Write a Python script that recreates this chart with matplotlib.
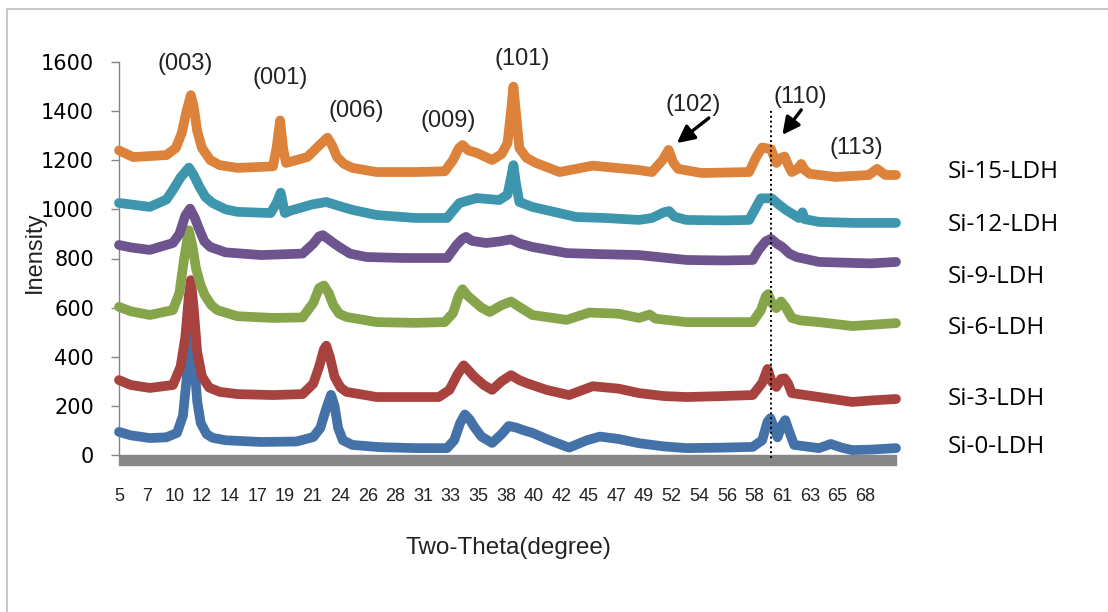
import matplotlib
matplotlib.use('Agg')
import matplotlib.pyplot as plt
from matplotlib.patches import Rectangle
from matplotlib.lines import Line2D

# XRD patterns: (2-theta in degrees, intensity in counts)
si0 = [(5.0, 94), (6.0, 80), (7.6, 69), (9.0, 72), (9.9, 90), (10.4, 160), (10.75, 330), (11.07, 530),
       (11.35, 380), (11.6, 220), (11.9, 130), (12.4, 85), (12.9, 70), (14, 60), (17, 53), (20, 55),
       (21.4, 73), (22.0, 110), (22.5, 190), (22.9, 245), (23.2, 200), (23.5, 110), (23.9, 60), (24.7, 41),
       (27, 32), (30, 28), (32.7, 28), (33.3, 60), (33.8, 130), (34.2, 165), (34.6, 145), (35.0, 114),
       (35.6, 75), (36.5, 49), (37.3, 85), (37.9, 118), (38.5, 112), (39.2, 100), (39.9, 90), (41.3, 61),
       (43.0, 30), (44.5, 60), (45.6, 75), (47.2, 65), (48.9, 48), (51, 35), (52.9, 28), (56, 30),
       (58.5, 33), (59.3, 60), (59.75, 135), (60.0, 150), (60.3, 110), (60.6, 72), (60.95, 120),
       (61.25, 142), (61.55, 100), (62.0, 41), (64.1, 28), (65.1, 45), (66.0, 30), (66.9, 20), (68.5, 22),
       (70.6, 28)]

si3 = [(5.0, 305), (6.0, 285), (7.6, 273), (9.55, 285), (10.2, 360), (10.6, 480), (10.9, 650), (11.07, 712),
       (11.3, 600), (11.6, 420), (12.0, 320), (12.6, 275), (13.5, 257), (15, 248), (18, 244), (20.5, 248),
       (21.4, 290), (21.9, 360), (22.3, 430), (22.5, 445), (22.8, 400), (23.2, 318), (23.7, 275), (24.2, 257),
       (26.75, 236), (30, 236), (32.0, 236), (32.9, 265), (33.6, 330), (34.1, 365), (34.5, 345), (35.0, 318),
       (35.8, 285), (36.5, 265), (37.3, 300), (38.1, 325), (38.8, 305), (39.4, 293), (41.1, 265), (43.0, 244),
       (45.0, 280), (47.2, 270), (48.9, 252), (51, 240), (52.9, 236), (56, 240), (58.5, 244), (59.3, 293),
       (59.75, 350), (60.1, 300), (60.5, 277), (60.9, 310), (61.2, 312), (61.5, 290), (61.8, 252), (64.1, 236),
       (66.9, 216), (68.5, 222), (70.6, 228)]

si6 = [(5.0, 603), (6.0, 585), (7.6, 570), (9.55, 590), (10.1, 660), (10.5, 800), (10.9, 915), (11.2, 850),
       (11.5, 760), (11.9, 690), (12.25, 650), (12.8, 610), (13.3, 590), (15, 565), (18, 558), (20.5, 560),
       (21.4, 619), (21.9, 680), (22.3, 690), (22.7, 660), (23.1, 610), (23.6, 575), (24.2, 562), (26.75, 541),
       (30, 538), (32.5, 541), (33.2, 578), (33.7, 650), (34.0, 675), (34.4, 650), (34.85, 631), (35.6, 600),
       (36.3, 582), (37.3, 610), (38.1, 625), (38.9, 600), (39.9, 570), (42.8, 550), (44.7, 580), (47.2, 575),
       (48.9, 558), (49.8, 572), (50.3, 555), (52.9, 541), (56, 541), (58.5, 541), (59.2, 590), (59.6, 645),
       (59.8, 655), (60.1, 620), (60.5, 598), (60.9, 625), (61.3, 600), (61.8, 558), (62.5, 548), (64.1, 541),
       (66.9, 525), (68.5, 530), (70.6, 537)]

si9 = [(5.0, 855), (6.0, 845), (7.6, 835), (9.55, 863), (10.1, 900), (10.6, 975), (11.0, 1003), (11.4, 965),
       (11.8, 916), (12.2, 870), (12.7, 847), (14, 825), (17, 814), (20.5, 820), (21.4, 860), (21.9, 890),
       (22.2, 895), (22.7, 878), (23.2, 860), (23.6, 847), (24.5, 820), (25.9, 806), (29, 802), (32.7, 802),
       (33.5, 855), (34.0, 880), (34.3, 888), (34.8, 872), (36.0, 863), (37.2, 870), (38.1, 878), (38.9, 860),
       (39.9, 847), (42.8, 822), (45.5, 818), (48.9, 814), (52.9, 794), (56, 792), (58.5, 794), (59.0, 835),
       (59.6, 870), (60.05, 880), (60.5, 862), (61.0, 847), (61.6, 820), (62.2, 806), (64.1, 786), (66.9, 782),
       (68.5, 780), (70.6, 786)]

si12 = [(5.0, 1026), (6.0, 1020), (7.6, 1010), (9.0, 1040), (9.55, 1079), (10.2, 1130), (10.9, 1170),
        (11.3, 1140), (11.8, 1091), (12.3, 1050), (12.9, 1026), (14, 1000), (15, 990), (17.8, 985), (18.3, 1026),
        (18.65, 1068), (19.0, 985), (19.5, 995), (20.3, 1006), (21.3, 1020), (22.5, 1030), (23.5, 1015),
        (24.7, 998), (26.75, 977), (30, 965), (32.7, 965), (33.2, 995), (33.75, 1026), (35.2, 1046), (37.1, 1038),
        (37.8, 1060), (38.1, 1130), (38.3, 1180), (38.5, 1110), (38.8, 1030), (39.9, 1010), (43.6, 969), (46, 965),
        (48.9, 957), (50.0, 965), (51.0, 988), (51.45, 993), (51.9, 970), (52.9, 957), (56, 955), (58.2, 957),
        (58.8, 1010), (59.2, 1045), (60.1, 1045), (60.7, 1020), (61.3, 998), (62.4, 965), (62.7, 988),
        (62.9, 960), (64.1, 949), (67, 945), (70.6, 945)]

si15 = [(5.0, 1240), (6.2, 1213), (9.0, 1221), (9.8, 1250), (10.3, 1311), (10.7, 1400), (11.07, 1465),
        (11.3, 1420), (11.6, 1320), (12.0, 1250), (12.7, 1201), (13.5, 1180), (15, 1169), (18.0, 1175),
        (18.3, 1250), (18.6, 1362), (18.85, 1250), (19.1, 1189), (20.9, 1213), (21.9, 1260), (22.6, 1292),
        (23.0, 1260), (23.4, 1213), (24.0, 1185), (24.7, 1169), (26.75, 1152), (30, 1152), (32.5, 1155),
        (33.2, 1201), (33.7, 1250), (34.0, 1262), (34.5, 1240), (35.2, 1230), (36.5, 1201), (37.3, 1225),
        (37.8, 1270), (38.1, 1400), (38.3, 1500), (38.5, 1400), (38.8, 1250), (39.4, 1210), (40.2, 1189),
        (42.2, 1152), (45.0, 1178), (48.9, 1160), (50.0, 1152), (50.9, 1201), (51.4, 1242), (51.8, 1190),
        (52.2, 1165), (54.2, 1148), (58.2, 1152), (58.8, 1213), (59.3, 1252), (60.05, 1245), (60.5, 1189),
        (60.9, 1210), (61.2, 1215), (61.5, 1180), (61.8, 1152), (62.3, 1165), (62.6, 1185), (62.9, 1160),
        (63.3, 1145), (65.5, 1132), (68.3, 1140), (69.0, 1165), (69.7, 1140), (70.6, 1140)]

names = ['Si-0-LDH', 'Si-3-LDH', 'Si-6-LDH', 'Si-9-LDH', 'Si-12-LDH', 'Si-15-LDH']
colors = ['#4471a8', '#a8423f', '#86a54a', '#6d548e', '#3d96ae', '#dc823a']
patterns = [si0, si3, si6, si9, si12, si15]
label_y_px = [447, 399, 328, 277, 225, 172]

xtick_labels = ['5', '7', '10', '12', '14', '17', '19', '21', '24', '26', '28', '31', '33', '35',
                '38', '40', '42', '45', '47', '49', '52', '54', '56', '58', '61', '63', '65', '68']

hkl = ['(003)', '(001)', '(006)', '(009)', '(101)', '(102)', '(110)', '(113)']
hkl_x = [10.56, 18.6, 25.05, 32.8, 39.0, 53.45, 62.55, 67.25]
hkl_y = [1592, 1535, 1400, 1360, 1612, 1425, 1458, 1250]

W, H = 1108, 612
fig = plt.figure(figsize=(W / 100, H / 100), dpi=100)
ax = fig.add_axes([119 / W, 1 - 455 / H, (896 - 119) / W, (455 - 62) / H])

for pts, c in zip(patterns, colors):
    x, y = zip(*pts)
    ax.plot(x, y, color=c, lw=7, solid_joinstyle='round', solid_capstyle='round',
            clip_on=False, zorder=3)

ax.set_xlim(5, 70.6)
ax.set_ylim(0, 1600)

for s in ['top', 'right', 'bottom']:
    ax.spines[s].set_visible(False)
ax.spines['left'].set_color('#868686')
ax.spines['left'].set_linewidth(1.0)

# thick grey category axis
ax.add_patch(Rectangle((0, -0.026), 1, 0.026, transform=ax.transAxes,
                       color='#878787', clip_on=False, zorder=2))

ax.set_yticks(range(0, 1601, 200))
ax.tick_params(axis='y', direction='out', length=6, width=1, color='#868686',
               pad=12, labelsize=15)
for t in ax.get_yticklabels():
    t.set_family('DejaVu Sans')

ax.set_xticks([5 + k * 7 / 3 for k in range(len(xtick_labels))])
ax.set_xticklabels(xtick_labels, family='Liberation Sans', fontsize=13, color='#222222')
ax.tick_params(axis='x', length=0, pad=24)

# dotted marker at the (110) reflection
ax.plot([60.05, 60.05], [-12, 1405], color='black', lw=1.4, ls=(0, (1, 1.5)),
        clip_on=False, zorder=4)

for t, x, y in zip(hkl, hkl_x, hkl_y):
    ax.text(x, y, t, ha='center', va='center', fontsize=17, family='Liberation Sans',
            color='#222222')

arrow = dict(arrowstyle='-|>', lw=2.4, color='black', mutation_scale=26, shrinkA=0, shrinkB=0)
ax.annotate('', xy=(52.1, 1270), xytext=(54.8, 1372), arrowprops=arrow)
ax.annotate('', xy=(61.0, 1303), xytext=(62.6, 1405), arrowprops=arrow)

for name, py in zip(names, label_y_px):
    fig.text(948 / W, 1 - py / H, name, fontsize=17.5, family='Open Sans', va='center', ha='left')

fig.text(508 / W, 1 - 548 / H, 'Two-Theta(degree)', ha='center', va='center',
         fontsize=17.5, family='Liberation Sans', color='#222222')
fig.text(35 / W, 1 - 252 / H, 'Inensity', ha='center', va='center', rotation=90,
         fontsize=17, family='Liberation Sans', color='#222222')

# outer frame (only left and top edges are visible in the crop)
fig.add_artist(Line2D([7 / W, 7 / W, 1], [0, 1 - 9 / H, 1 - 9 / H], color='#bdbdbd', lw=1.2))

fig.savefig('out.png', dpi=100)
